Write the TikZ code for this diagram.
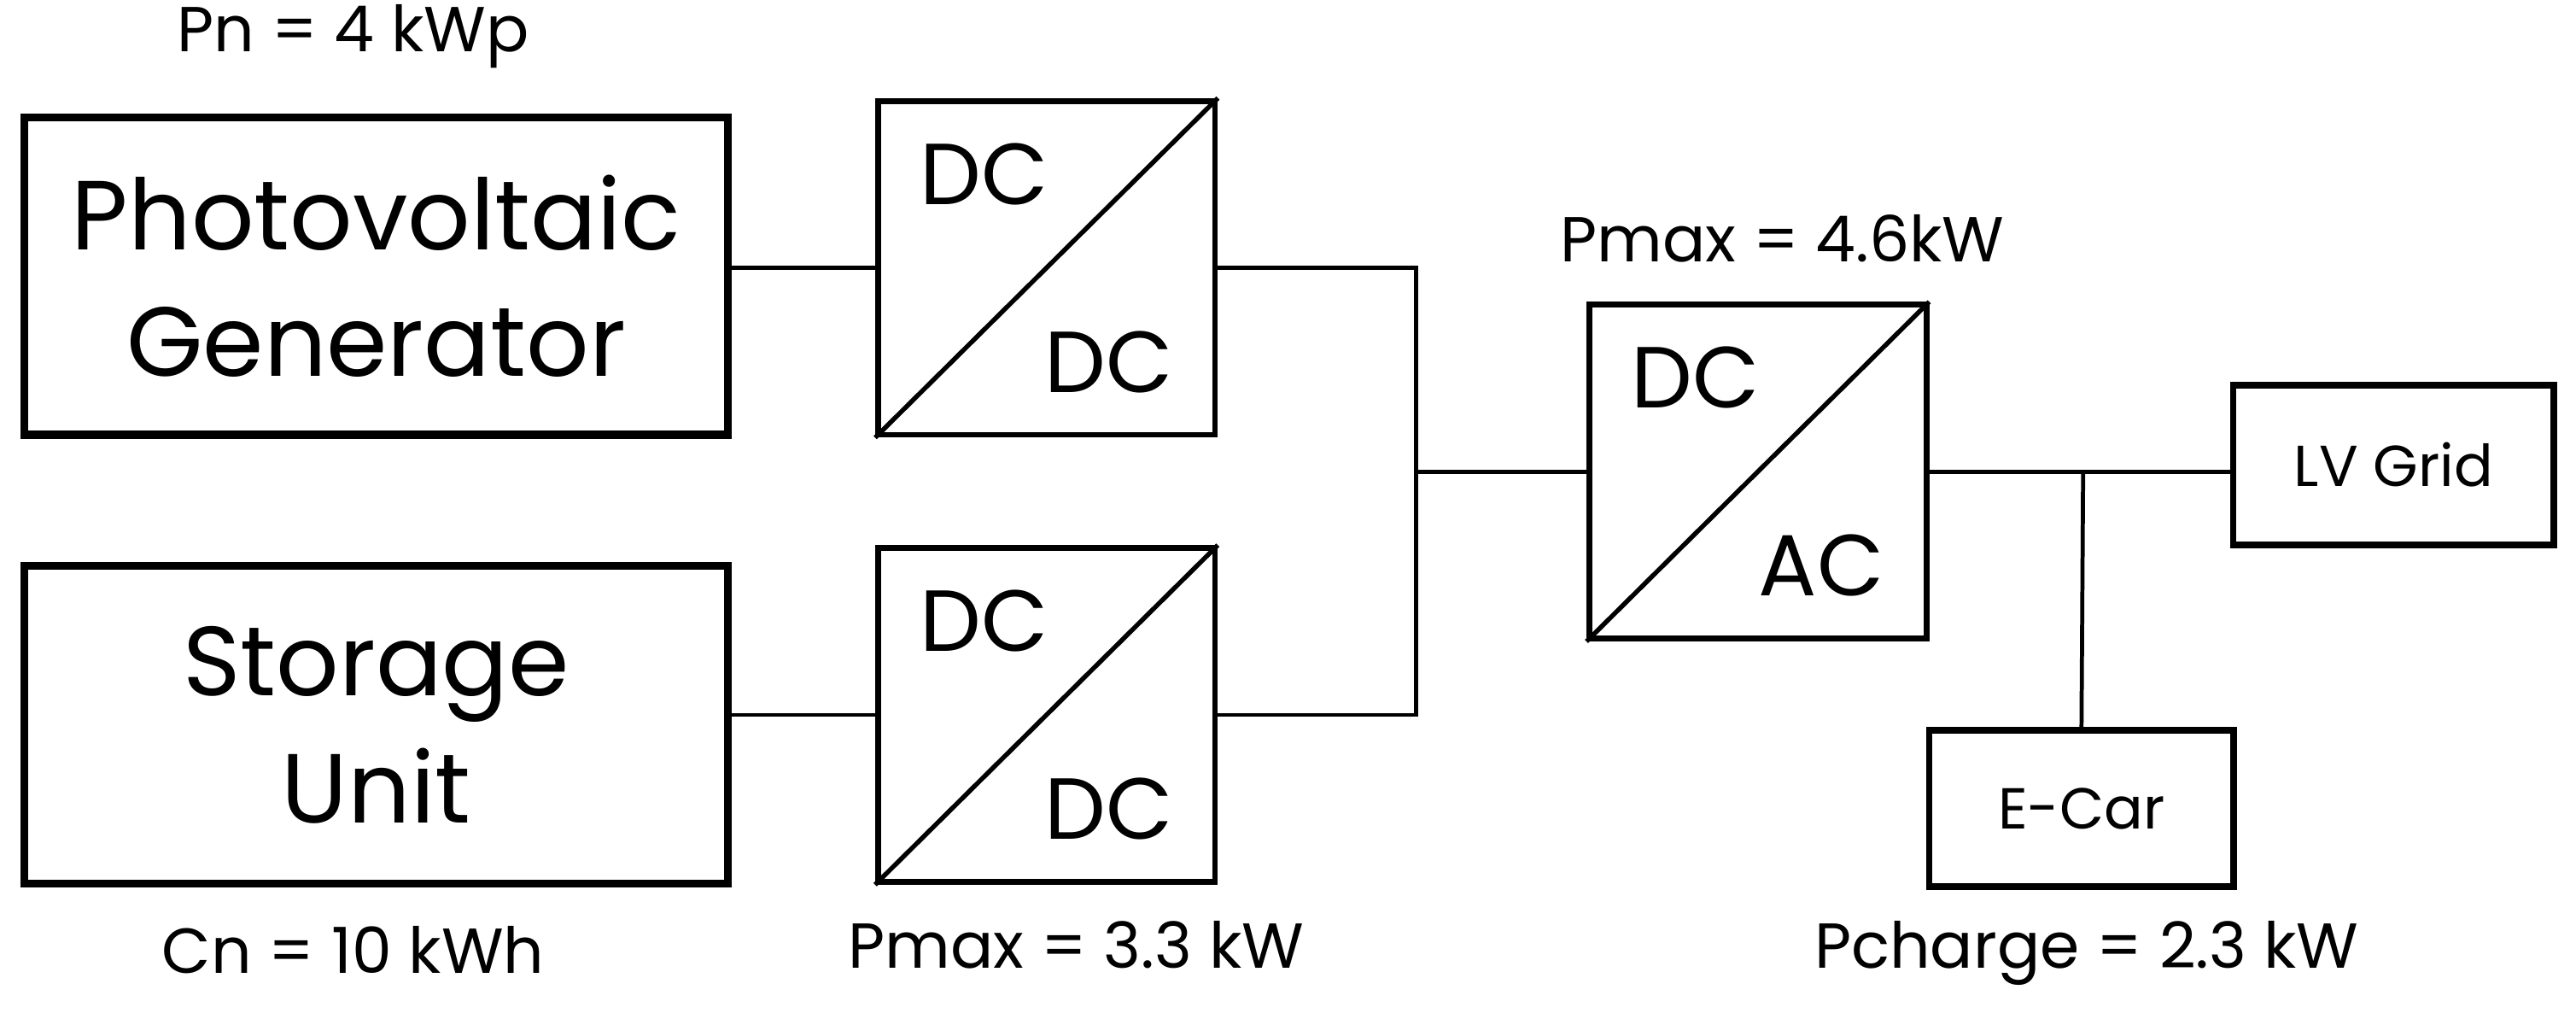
\documentclass[tikz,border=0pt]{standalone}
\usepackage{fontspec}
\setmainfont{Poppins}
\begin{document}
\begin{tikzpicture}[x=0.01cm,y=-0.01cm,
  block/.style={draw, line width=1.4pt, rectangle, minimum width=4.28cm, minimum height=1.93cm, align=center, font=\fontsize{17}{22}\selectfont},
  conv/.style={draw, line width=1pt, rectangle, minimum width=2.05cm, minimum height=2.03cm},
  small/.style={draw, line width=1.1pt, rectangle, font=\fontsize{10}{12}\selectfont},
  lbl/.style={font=\fontsize{11}{13}\selectfont},
  convtxt/.style={font=\fontsize{15}{18}\selectfont},
  wire/.style={line width=0.7pt}]
  \useasboundingbox (0,0) rectangle (1568,616);
  % Sources
  \node[block] (PV) at (229,168) {Photovoltaic\\Generator};
  \node[block] (SU) at (229,441) {Storage\\Unit};
  % Converters
  \node[conv] (C1) at (637,163) {};
  \node[conv] (C2) at (637,435) {};
  \node[conv] (C3) at (1070,287) {};
  \foreach \c/\a/\b in {C1/DC/DC, C2/DC/DC, C3/DC/AC} {
    \draw[line width=0.8pt] (\c.south west) -- (\c.north east);
    \node[convtxt, anchor=north west] at ([shift={(15,15)}]\c.north west) {\a};
    \node[convtxt, anchor=south east] at ([shift={(-15,-15)}]\c.south east) {\b};
  }
  % Loads
  \node[small, minimum width=1.95cm, minimum height=0.97cm] (LV) at (1457,283) {LV Grid};
  \node[small, minimum width=1.85cm, minimum height=0.95cm] (EC) at (1267,492) {E-Car};
  % Labels
  \node[lbl] (pn) at (215,22) {Pn = 4 kWp};
  \node[lbl] (cn) at (215,578) {Cn = 10 kWh};
  \node[lbl] (pm1) at (655,575) {Pmax = 3.3 kW};
  \node[lbl] (pm2) at (1085,145) {Pmax = 4.6kW};
  \node[lbl] (pc) at (1270,580) {Pcharge = 2.3 kW};
  % Bus
  \coordinate (b1) at (862,163);
  \coordinate (b2) at (862,435);
  \coordinate (bm) at (862,287);
  \coordinate (ac) at (1268,287);
  % Wires
  \draw[wire] (PV.east |- C1.west) -- (C1.west);
  \draw[wire] (SU.east |- C2.west) -- (C2.west);
  \draw[wire] (C1.east) -- (b1) -- (b2) -- (C2.east);
  \draw[wire] (bm) -- (C3.west);
  \draw[wire] (C3.east) -- (LV.west |- C3.east);
  \draw[wire] (ac) -- (EC.north);
\end{tikzpicture}
\end{document}
